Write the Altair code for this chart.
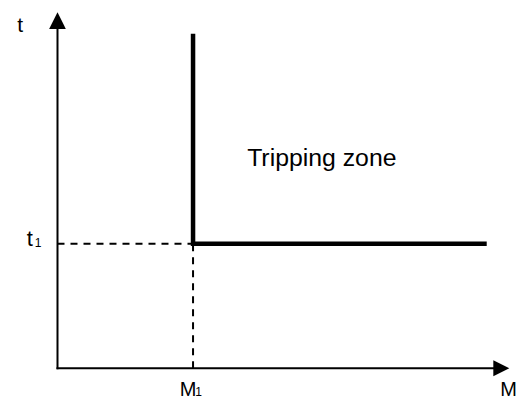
import altair as alt
import pandas as pd

# ---- data (arbitrary units) ----
AXIS_END = 10.0          # length of the M and t axes
M1 = 3.0                 # pick-up value M1
T1 = 3.5                 # time setting t1
CURVE_M = [3.0, 3.0, 9.5]
CURVE_T = [9.4, 3.5, 3.5]
ZONE_LABEL = "Tripping zone"
ZONE_POS = [5.85, 5.67]
X_LABEL = "M"
Y_LABEL = "t"
SUB = "1"

FONT = "Liberation Sans"

xs = alt.Scale(domain=[-1.0956, 10.1925], nice=False, zero=False)
ys = alt.Scale(domain=[-0.9185, 10.1208], nice=False, zero=False)


def enc(**kw):
    return dict(
        x=alt.X("x:Q", scale=xs, axis=None),
        y=alt.Y("y:Q", scale=ys, axis=None),
        **kw,
    )


# axes lines
axes_df = pd.DataFrame({"x": [0.0, 0.0], "y": [0.0, 0.0],
                        "x2": [AXIS_END - 0.3, 0.0], "y2": [0.0, AXIS_END - 0.4]})
axes = alt.Chart(axes_df).mark_rule(color="black", strokeWidth=2, strokeCap="square").encode(
    **enc(x2=alt.X2("x2:Q"), y2=alt.Y2("y2:Q"))
)

# arrow heads
up_df = pd.DataFrame({"x": [0.0], "y": [AXIS_END]})
right_df = pd.DataFrame({"x": [AXIS_END], "y": [0.0]})
arrow_up = alt.Chart(up_df).mark_point(
    shape="M0,0L1,2L-1,2Z", size=279, filled=True, color="black", opacity=1, strokeWidth=0
).encode(**enc())
arrow_right = alt.Chart(right_df).mark_point(
    shape="M0,0L-2,-1L-2,1Z", size=256, filled=True, color="black", opacity=1, strokeWidth=0
).encode(**enc())

# dashed guide lines
dash_df = pd.DataFrame({"x": [0.0, M1], "y": [T1, 0.0], "x2": [M1, M1], "y2": [T1, T1]})
dashes = alt.Chart(dash_df).mark_rule(color="black", strokeWidth=2, strokeDash=[7, 6]).encode(
    **enc(x2=alt.X2("x2:Q"), y2=alt.Y2("y2:Q"))
)

# tripping characteristic
curve_df = pd.DataFrame({"x": CURVE_M, "y": CURVE_T, "o": list(range(len(CURVE_M)))})
curve = alt.Chart(curve_df).mark_line(
    color="black", strokeWidth=4.5, strokeJoin="miter", strokeCap="butt"
).encode(**enc(order="o:Q"))


def label(x, y, text, size, align, dx, dy):
    df = pd.DataFrame({"x": [x], "y": [y], "text": [text]})
    return alt.Chart(df).mark_text(
        font=FONT, fontSize=size, color="black", align=align,
        baseline="alphabetic", dx=dx, dy=dy
    ).encode(**enc(text="text:N"))


labels = [
    label(0.0, AXIS_END, Y_LABEL, 21, "right", -34.3, 19.7),
    label(0.0, T1, Y_LABEL, 22, "right", -24.5, 2.3),
    label(0.0, T1, SUB, 12, "left", -22.8, 3.3),
    label(M1, 0.0, X_LABEL, 20, "left", -13.4, 28.0),
    label(M1, 0.0, SUB, 12, "left", 2.2, 28.0),
    label(AXIS_END, 0.0, X_LABEL, 20, "left", -9.0, 27.5),
    label(ZONE_POS[0], ZONE_POS[1], ZONE_LABEL, 24.8, "center", 0, 0),
]

chart = alt.layer(axes, dashes, curve, arrow_up, arrow_right, *labels).properties(
    width=510,
    height=393,
    padding=0,
    autosize="none",
    background="white",
).configure_view(stroke=None)

chart.save("out.html", embed_options={"renderer": "svg", "actions": False})
